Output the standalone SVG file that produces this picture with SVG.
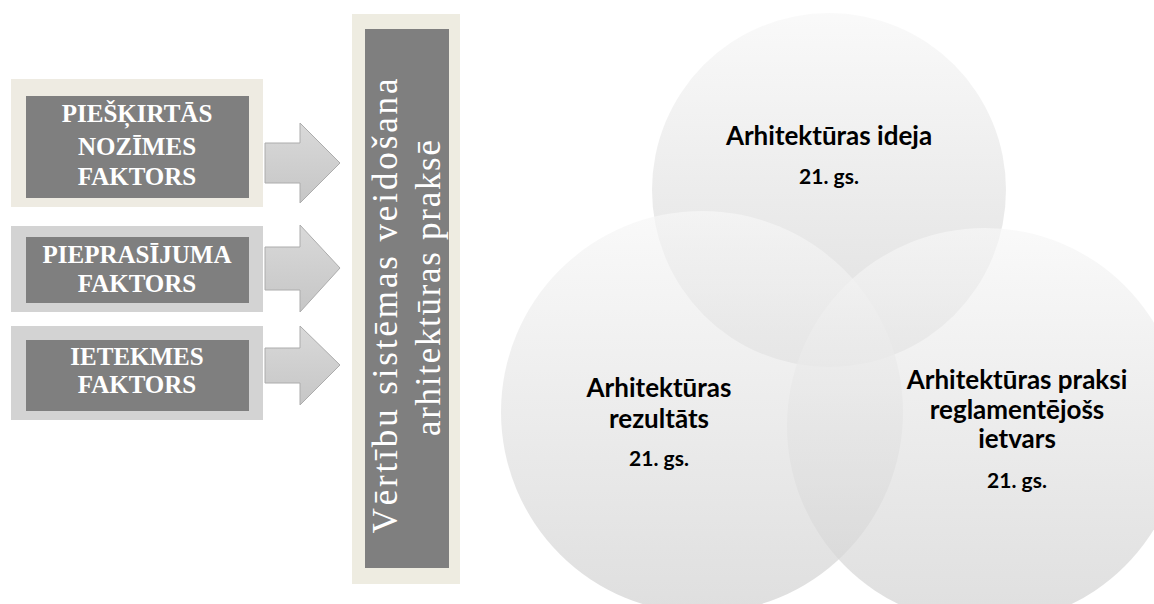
<svg xmlns="http://www.w3.org/2000/svg" width="1154" height="604" viewBox="0 0 1154 604">
<style>
.box-in{fill:#7f7f7f}
.ftxt{font-family:"Liberation Serif",serif;font-weight:bold;font-size:25px;fill:#ffffff;text-anchor:middle}
.vtxt{font-family:"Liberation Serif",serif;font-size:35px;fill:#ffffff;text-anchor:middle}
.ctitle{font-family:Lato,"Liberation Sans",sans-serif;font-weight:bold;font-size:26px;fill:#000;text-anchor:middle}
.csub{font-family:Lato,"Liberation Sans",sans-serif;font-weight:bold;font-size:21px;fill:#000;text-anchor:middle}
.arrow{fill:url(#ag);stroke:#acacac;stroke-width:1}
.circ{fill:url(#cg);fill-opacity:0.7}
</style>
<defs>
<linearGradient id="ag" x1="0" y1="0" x2="0" y2="1">
<stop offset="0" stop-color="#d9d9d9"/>
<stop offset="1" stop-color="#c6c6c6"/>
</linearGradient>
<linearGradient id="cg" x1="0" y1="0" x2="0" y2="1">
<stop offset="0" stop-color="#f7f7f7"/>
<stop offset="1" stop-color="#d1d1d1"/>
</linearGradient>
</defs>
<rect width="1154" height="604" fill="#ffffff"/>

<g id="factor-1">
<rect x="11" y="79" width="252" height="128" fill="#eeebe2"/>
<rect class="box-in" x="26" y="96" width="223" height="102"/>
<text class="ftxt" x="137" y="122">PIEŠĶIRTĀS</text>
<text class="ftxt" x="137" y="155">NOZĪMES</text>
<text class="ftxt" x="137" y="185">FAKTORS</text>
</g>
<g id="factor-2">
<rect x="11" y="226" width="252" height="86" fill="#d3d3d3"/>
<rect class="box-in" x="26" y="237" width="223" height="66"/>
<text class="ftxt" x="137" y="263">PIEPRASĪJUMA</text>
<text class="ftxt" x="137" y="292">FAKTORS</text>
</g>
<g id="factor-3">
<rect x="11" y="326" width="252" height="94" fill="#d3d3d3"/>
<rect class="box-in" x="26" y="340" width="223" height="71"/>
<text class="ftxt" x="137" y="365">IETEKMES</text>
<text class="ftxt" x="137" y="393">FAKTORS</text>
</g>

<g id="connectors">
<path class="arrow" d="M265,143 H300 V123 L340,163 L300,203 V183 H265 Z"/>
<path class="arrow" d="M265,247 H300 V225 L340,268 L300,312 V290 H265 Z"/>
<path class="arrow" d="M265,348 H300 V326 L340,365 L300,405 V383 H265 Z"/>
</g>

<g id="value-system">
<rect x="352" y="14" width="108" height="570" fill="#eeece1"/>
<rect class="box-in" x="365" y="29" width="84" height="539"/>
<text class="vtxt" transform="translate(397,306) rotate(-90)" textLength="455" lengthAdjust="spacing">Vērtību sistēmas veidošana</text>
<text class="vtxt" transform="translate(440,288) rotate(-90)" textLength="296" lengthAdjust="spacing">arhitektūras praksē</text>
</g>

<g id="circle-idea">
<circle class="circ" cx="829" cy="190" r="177"/>
<text class="ctitle" x="829" y="145">Arhitektūras ideja</text>
<text class="csub" x="829" y="184">21. gs.</text>
</g>
<g id="circle-result">
<circle class="circ" cx="702" cy="412" r="201"/>
<text class="ctitle" x="659" y="397">Arhitektūras</text>
<text class="ctitle" x="659" y="428">rezultāts</text>
<text class="csub" x="659" y="466">21. gs.</text>
</g>
<g id="circle-framework">
<circle class="circ" cx="985" cy="426" r="198"/>
<text class="ctitle" x="1017" y="389">Arhitektūras praksi</text>
<text class="ctitle" x="1017" y="419">reglamentējošs</text>
<text class="ctitle" x="1017" y="448">ietvars</text>
<text class="csub" x="1017" y="488">21. gs.</text>
</g>
</svg>
